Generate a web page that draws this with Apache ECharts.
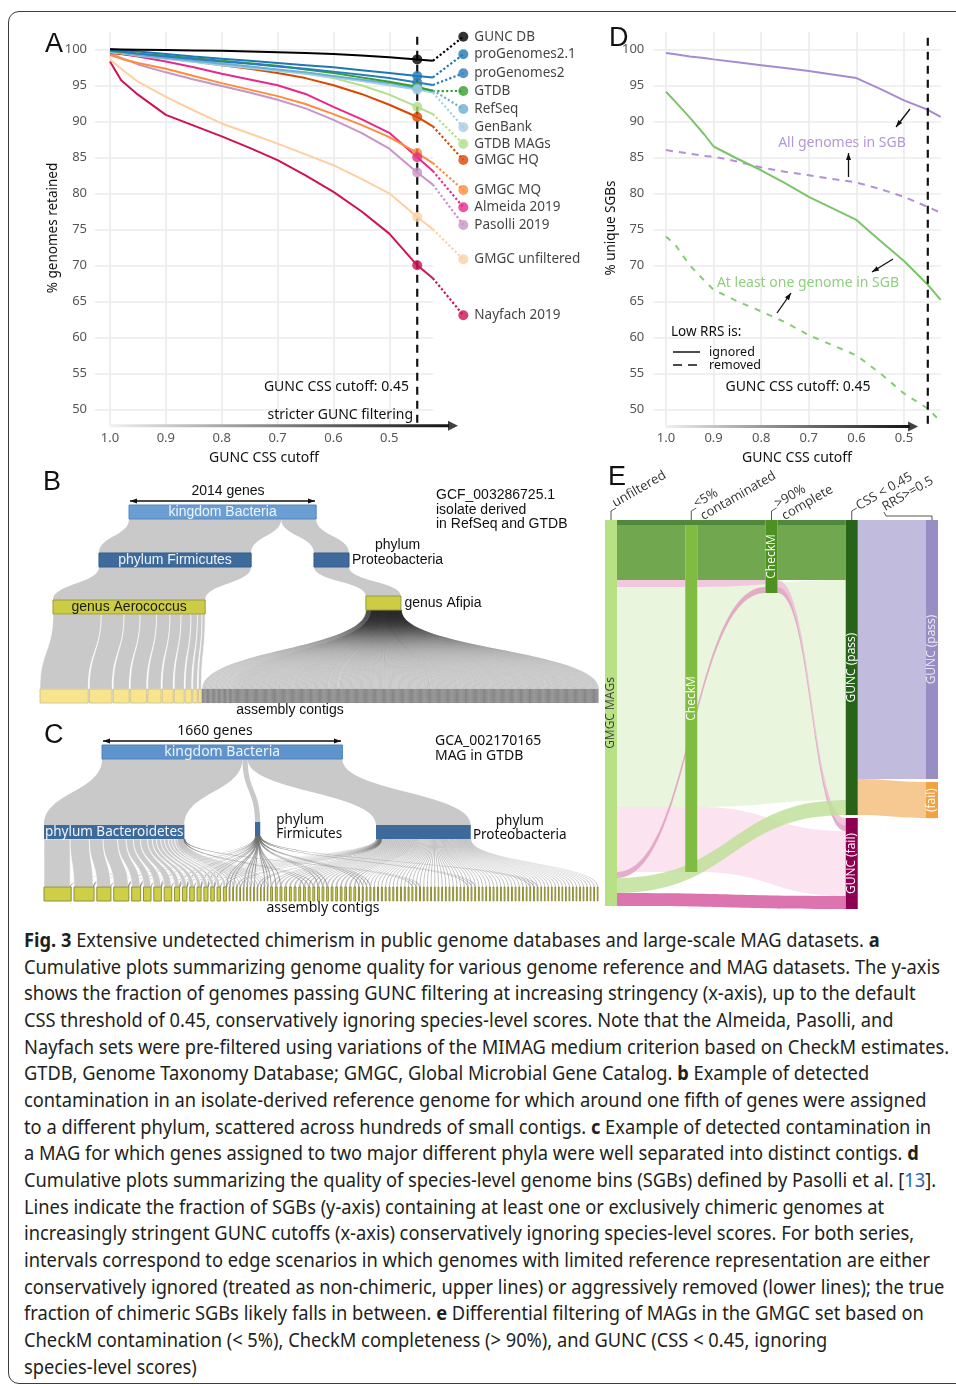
<!DOCTYPE html>
<html lang="en">
<head>
<meta charset="utf-8">
<title>Fig. 3</title>
<script src="https://cdn.jsdelivr.net/npm/echarts@6.0.0/dist/echarts.min.js"></script>
<style>
  html, body { margin: 0; padding: 0; background: #fff; overflow: hidden; }
  body { width: 956px; height: 1386px; position: relative; }
  #frame { position: absolute; left: 8px; top: 11px; width: 990px; height: 1371px; border: 1.5px solid #3c3c3c; border-radius: 11px; }
  #chart { position: absolute; left: 0; top: 0; width: 956px; height: 925px; }
  #caption { position: absolute; left: 24px; top: 927px; font-family: 'Noto Sans', sans-serif; font-size: 19px; line-height: 26.65px; color: #231f20; }
  #caption div { white-space: nowrap; transform-origin: 0 50%; }
  #caption span.t { display: inline-block; }
  #caption a { color: #2a64b8; text-decoration: none; }
</style>
</head>
<body>
<div id="frame"></div>
<div id="chart"></div>
<div id="caption">
  <div><span class="t"><b>Fig. 3</b> Extensive undetected chimerism in public genome databases and large-scale MAG datasets. <b>a</b></span></div>
  <div><span class="t">Cumulative plots summarizing genome quality for various genome reference and MAG datasets. The y-axis</span></div>
  <div><span class="t">shows the fraction of genomes passing GUNC filtering at increasing stringency (x-axis), up to the default</span></div>
  <div><span class="t">CSS threshold of 0.45, conservatively ignoring species-level scores. Note that the Almeida, Pasolli, and</span></div>
  <div><span class="t">Nayfach sets were pre-filtered using variations of the MIMAG medium criterion based on CheckM estimates.</span></div>
  <div><span class="t">GTDB, Genome Taxonomy Database; GMGC, Global Microbial Gene Catalog. <b>b</b> Example of detected</span></div>
  <div><span class="t">contamination in an isolate-derived reference genome for which around one fifth of genes were assigned</span></div>
  <div><span class="t">to a different phylum, scattered across hundreds of small contigs. <b>c</b> Example of detected contamination in</span></div>
  <div><span class="t">a MAG for which genes assigned to two major different phyla were well separated into distinct contigs. <b>d</b></span></div>
  <div><span class="t">Cumulative plots summarizing the quality of species-level genome bins (SGBs) defined by Pasolli et al. [<a>13</a>].</span></div>
  <div><span class="t">Lines indicate the fraction of SGBs (y-axis) containing at least one or exclusively chimeric genomes at</span></div>
  <div><span class="t">increasingly stringent GUNC cutoffs (x-axis) conservatively ignoring species-level scores. For both series,</span></div>
  <div><span class="t">intervals correspond to edge scenarios in which genomes with limited reference representation are either</span></div>
  <div><span class="t">conservatively ignored (treated as non-chimeric, upper lines) or aggressively removed (lower lines); the true</span></div>
  <div><span class="t">fraction of chimeric SGBs likely falls in between. <b>e</b> Differential filtering of MAGs in the GMGC set based on</span></div>
  <div><span class="t">CheckM contamination (&lt; 5%), CheckM completeness (&gt; 90%), and GUNC (CSS &lt; 0.45, ignoring</span></div>
  <div><span class="t">species-level scores)</span></div>
</div>
<script>
// ---------- A: % genomes retained vs GUNC CSS cutoff ----------
const cutoffsA = [1.0, 0.98, 0.95, 0.9, 0.85, 0.8, 0.75, 0.7, 0.65, 0.6, 0.55, 0.5, 0.45, 0.422]
const datasetsA = ['GUNC DB', 'proGenomes2.1', 'proGenomes2', 'GTDB', 'RefSeq', 'GenBank', 'GTDB MAGs',
  'GMGC HQ', 'GMGC MQ', 'Almeida 2019', 'Pasolli 2019', 'GMGC unfiltered', 'Nayfach 2019']
const guncDb = [100, 99.98, 99.95, 99.9, 99.85, 99.8, 99.7, 99.6, 99.5, 99.35, 99.15, 98.9, 98.6, 98.4]
const proGenomes21 = [100, 99.9, 99.7, 99.35, 99.0, 98.7, 98.4, 98.1, 97.8, 97.5, 97.1, 96.7, 96.3, 96.1]
const proGenomes2 = [99.9, 99.7, 99.4, 99.0, 98.65, 98.3, 98.0, 97.6, 97.3, 96.9, 96.45, 96.0, 95.4, 95.05]
const gtdb = [99.8, 99.65, 99.4, 99.1, 98.75, 98.4, 98.05, 97.7, 97.2, 96.7, 96.1, 95.5, 94.8, 94.2]
const refSeq = [99.7, 99.5, 99.2, 98.8, 98.4, 98.0, 97.6, 97.2, 96.8, 96.3, 95.8, 95.3, 94.6, 94.3]
const genBank = [99.65, 99.45, 99.1, 98.7, 98.25, 97.8, 97.4, 97.0, 96.6, 96.1, 95.6, 95.0, 94.4, 94.0]
const gtdbMags = [99.6, 99.45, 99.2, 98.9, 98.5, 98.05, 97.6, 97.1, 96.6, 96.0, 95.0, 93.7, 92.0, 91.0]
const gmgcHq = [99.5, 99.35, 99.1, 98.75, 98.3, 97.8, 97.3, 96.7, 96.0, 95.0, 93.8, 92.3, 90.6, 89.3]
const gmgcMq = [99.2, 98.7, 98.1, 97.3, 96.3, 95.3, 94.4, 93.5, 92.4, 91.0, 89.5, 87.8, 85.6, 84.2]
const almeida = [99.6, 99.35, 99.0, 98.3, 97.5, 96.6, 95.8, 95.0, 93.8, 92.0, 90.3, 88.4, 85.0, 83.1]
const pasolli = [99.4, 98.8, 97.9, 96.8, 95.8, 94.9, 94.0, 93.0, 91.8, 90.2, 88.4, 86.2, 82.9, 81.2]
const gmgcUnfiltered = [98.6, 97.3, 95.5, 93.4, 91.5, 89.7, 88.3, 86.9, 85.4, 83.9, 82.0, 80.0, 76.7, 75.0]
const nayfach = [98.3, 95.7, 93.7, 90.9, 89.4, 87.9, 86.3, 84.6, 82.5, 80.2, 77.5, 74.4, 70.0, 68.2]
const valuesA = [guncDb, proGenomes21, proGenomes2, gtdb, refSeq, genBank, gtdbMags, gmgcHq, gmgcMq, almeida, pasolli, gmgcUnfiltered, nayfach]
const colorsA = ['#000000', '#1f78b4', '#2a7dbb', '#33a02c', '#6baed6', '#a6cee3', '#b2df8a',
  '#d94801', '#fd8d3c', '#e7298a', '#c994c7', '#fdd0a2', '#ce1256']
// where the labelled end dots sit (layout, in axis units)
const labelXA = 0.3675
const labelYA = [101.75, 99.31, 96.67, 94.21, 91.71, 89.17, 86.85, 84.63, 80.46, 78.06, 75.6, 70.83, 63.06]

// ---------- D: % unique SGBs ----------
const cutoffsD = [1.0, 0.98, 0.95, 0.92, 0.9, 0.85, 0.8, 0.75, 0.7, 0.65, 0.6, 0.55, 0.5, 0.45, 0.423]
const allIgnored = [99.5, 99.3, 99.0, 98.8, 98.6, 98.2, 97.8, 97.4, 97.0, 96.5, 96.0, 94.5, 92.9, 91.6, 90.6]
const allRemoved = [86.0, 85.8, 85.5, 85.2, 85.1, 84.4, 83.6, 83.0, 82.5, 82.0, 81.5, 80.6, 79.5, 78.1, 77.3]
const oneIgnored = [94.1, 92.7, 90.5, 88.2, 86.5, 84.8, 83.2, 81.4, 79.5, 77.9, 76.3, 73.4, 70.6, 67.3, 65.2]
const oneRemoved = [74.0, 72.8, 70.0, 67.9, 66.6, 65.0, 63.6, 62.1, 60.3, 58.9, 57.5, 55.0, 52.2, 50.1, 48.3]
const guncCutoff = 0.45

// ---------- B: GCF_003286725.1 ----------
const bPhylumGenes = [1637, 377]                 // Firmicutes, Proteobacteria
const bAerococcusContigs = [519, 246, 173, 177, 144, 119, 107, 70, 49, 33]
const bAfipiaContigRuns = [[26, 2], [325, 1]]    // [contigs, genes per contig]

// ---------- C: GCA_002170165 ----------
// [contigs, Bacteroidetes genes, Firmicutes genes, Proteobacteria genes] per contig
const cContigRuns = [
  [1, 180, 0, 7], [1, 132, 2, 4], [1, 95, 0, 2], [1, 100, 1, 3], [1, 58, 1, 3], [1, 50, 0, 2], [1, 48, 2, 2], [1, 49, 0, 3],
  [1, 33, 1, 1], [1, 29, 1, 1], [1, 29, 0, 2], [1, 26, 1, 1], [1, 26, 1, 1], [1, 22, 1, 1], [1, 22, 0, 2], [1, 19, 1, 1],
  [2, 4, 1, 0], [2, 4, 0, 1], [2, 3, 1, 0], [2, 4, 1, 0], [2, 3, 0, 1], [2, 3, 1, 0],
  [3, 0, 1, 12], [4, 0, 0, 13], [3, 1, 0, 12], [3, 0, 1, 11], [6, 0, 0, 12],
  [4, 0, 1, 6], [10, 0, 0, 7], [3, 1, 0, 6], [12, 0, 0, 6], [3, 0, 1, 5], [14, 0, 0, 6], [3, 0, 1, 5], [17, 0, 0, 5]
]
const cPhyla = ['phylum Bacteroidetes', 'phylum Firmicutes', 'phylum Proteobacteria']

// ---------- E: GMGC MAG filtering (share of MAGs, %) ----------
const eLinks = [
  ['GMGC MAGs', 'CheckM completeness', 1.3, 'dkG'],
  ['GMGC MAGs', 'CheckM contamination', 14.25, 'mdG'],
  ['GMGC MAGs', 'CheckM contamination', 1.8, 'ltPk'],
  ['GMGC MAGs', 'CheckM contamination', 57.0, 'ltG'],
  ['GMGC MAGs', 'CheckM contamination', 16.85, 'vltPk'],
  ['CheckM contamination', 'CheckM completeness', 14.25, 'mdG'],
  ['CheckM contamination', 'CheckM completeness', 1.8, 'ltPk'],
  ['CheckM completeness', 'GUNC (pass)', 1.3, 'dkG'],
  ['CheckM completeness', 'GUNC (pass)', 14.25, 'mdG'],
  ['CheckM contamination', 'GUNC (pass)', 57.0, 'ltG'],
  ['GMGC MAGs', 'CheckM completeness', 1.55, 'mdPk'],
  ['CheckM completeness', 'GUNC (fail)', 1.8, 'ltPk'],
  ['CheckM completeness', 'GUNC (fail)', 1.55, 'mdPk'],
  ['CheckM contamination', 'GUNC (fail)', 16.85, 'vltPk'],
  ['GMGC MAGs', 'GUNC (pass)', 3.9, 'ltG2'],
  ['GMGC MAGs', 'GUNC (fail)', 3.35, 'mag'],
  ['GUNC (pass)', 'GUNC (pass) RRS', 67.1, 'lav'],
  ['GUNC (pass)', 'GUNC (fail) RRS', 9.35, 'org']
]
const eFlowColors = {
  dkG: '#4f8a3c', mdG: '#71a84f', ltPk: '#efbcd9', ltG: '#e9f5dc', vltPk: '#fbe3ef',
  mdPk: '#e09fc3', ltG2: '#bfe09a', mag: '#dc74b0', lav: '#c1bbde', org: '#f5c080'
}

const plex = "'Noto Sans', 'Open Sans', sans-serif"
const arial = "'Liberation Sans', Arial, sans-serif"
const gridGray = '#ebebeb'

// ---------- helpers for annotations ----------
function txt (x, y, text, o) {
  o = o || {}
  return {
    type: 'text', x: x, y: y, rotation: o.rot || 0, silent: true, z: 60,
    style: {
      text: text, fill: o.color || '#111',
      font: (o.weight || 'normal') + ' ' + (o.size || 14) + 'px ' + (o.family || plex),
      textAlign: o.align || 'left', align: o.align || 'left',
      textVerticalAlign: o.valign || 'middle', verticalAlign: o.valign || 'middle',
      lineHeight: o.lh || Math.round((o.size || 14) * 1.1)
    }
  }
}
function head (x, y, ang, len, wid) {
  const bx = x - len * Math.cos(ang), by = y - len * Math.sin(ang)
  const px = -Math.sin(ang) * wid / 2, py = Math.cos(ang) * wid / 2
  return { type: 'polygon', silent: true, z: 60, shape: { points: [[x, y], [bx + px, by + py], [bx - px, by - py]] }, style: { fill: '#111' } }
}
function arrow (x1, y1, x2, y2, both) {
  const ang = Math.atan2(y2 - y1, x2 - x1)
  const out = [{ type: 'line', silent: true, z: 60, shape: { x1: x1, y1: y1, x2: x2, y2: y2 }, style: { stroke: '#111', lineWidth: 1.3 } },
    head(x2, y2, ang, 7, 5)]
  if (both) out.push(head(x1, y1, ang + Math.PI, 7, 5))
  return out
}
function seg (x1, y1, x2, y2, o) {
  o = o || {}
  return { type: 'line', silent: true, z: 60, shape: { x1: x1, y1: y1, x2: x2, y2: y2 },
    style: { stroke: o.color || '#111', lineWidth: o.width || 1.5, lineDash: o.dash || null } }
}
function bracket (points) {
  return { type: 'polyline', silent: true, z: 60, shape: { points: points }, style: { stroke: '#555', lineWidth: 1, fill: null } }
}

// ---------- grids: A (0-2), D (3-5) ----------
// 0/3: vertical grid lines + x labels, 1/4: horizontal grid lines + y labels, 2/5: data
const pxPerUnitA = 558.6, pxPerUnitD = 476, pxPerPct = 7.2
const panelTop = 31.7, panelBottom = 426
const plotTop = 49.3, plotH = 360
const dataYMin = 47, dataYMax = 103
const dataXMinA = 0.36, dataXMinD = 0.42
const dataTop = plotTop - (dataYMax - 100) * pxPerPct
const dataH = (dataYMax - dataYMin) * pxPerPct
const grids = [
  { left: 110, top: panelTop, width: 279.3, height: panelBottom - panelTop },
  { left: 95, top: plotTop, width: 338, height: plotH },
  { left: 110, top: dataTop, width: (1 - dataXMinA) * pxPerUnitA, height: dataH },
  { left: 666, top: panelTop, width: 238, height: panelBottom - panelTop },
  { left: 653.3, top: plotTop, width: 287.4, height: plotH },
  { left: 666, top: dataTop, width: (1 - dataXMinD) * pxPerUnitD, height: dataH }
].map(g => Object.assign({ containLabel: false, outerBoundsMode: 'none' }, g))

const tickLabel = { color: '#555', fontSize: 13, fontFamily: plex }
function vAxisX (gi) {
  return { gridIndex: gi, type: 'value', min: 0.5, max: 1.0, interval: 0.1, inverse: true,
    axisLine: { show: false }, axisTick: { show: false },
    splitLine: { show: true, lineStyle: { color: gridGray, width: 1.6 } },
    axisLabel: Object.assign({ margin: 6, formatter: v => v.toFixed(1) }, tickLabel) }
}
function hAxisY (gi, margin) {
  return { gridIndex: gi, type: 'value', min: 50, max: 100, interval: 5,
    axisLine: { show: false }, axisTick: { show: false },
    splitLine: { show: true, lineStyle: { color: gridGray, width: 1.6 } },
    axisLabel: Object.assign({ margin: margin }, tickLabel) }
}
function blank (gi, min, max, inv) {
  return { gridIndex: gi, type: 'value', show: false, min: min, max: max, inverse: !!inv, splitLine: { show: false } }
}
const xAxes = [vAxisX(0), blank(1, 0, 1), blank(2, dataXMinA, 1.0, true), vAxisX(3), blank(4, 0, 1), blank(5, dataXMinD, 1.0, true)]
const yAxes = [blank(0, 0, 1), hAxisY(1, 8), blank(2, dataYMin, dataYMax), blank(3, 0, 1), hAxisY(4, 9), blank(5, dataYMin, dataYMax)]

const series = []
const ax = (i) => ({ xAxisIndex: i, yAxisIndex: i })
const fadeArrow = new echarts.graphic.LinearGradient(0, 0, 1, 0, [{ offset: 0, color: '#f2f2f2' }, { offset: 1, color: '#111' }])

// A lines, leaders, cutoff dots and end labels
const cutIdxA = cutoffsA.indexOf(guncCutoff)
const lastA = cutoffsA.length - 1
valuesA.forEach((vals, k) => {
  series.push(Object.assign({ type: 'line', data: cutoffsA.map((c, i) => [c, vals[i]]), symbol: 'none', silent: true,
    lineStyle: { color: colorsA[k], width: 2 }, z: 3 + (valuesA.length - k) / 100 }, ax(2)))
  series.push(Object.assign({ type: 'line', data: [[cutoffsA[lastA], vals[lastA]], [labelXA, labelYA[k]]], symbol: 'none', silent: true,
    lineStyle: { color: colorsA[k], width: 2.2, type: 'dotted' }, z: 3 }, ax(2)))
})
series.push(Object.assign({ type: 'line', data: [[guncCutoff, 101.75], [guncCutoff, 47.7]], symbol: 'none', silent: true,
  lineStyle: { color: '#111', width: 2.2, type: [8, 6] }, z: 4 }, ax(2)))
series.push(Object.assign({ type: 'scatter', symbolSize: 10, silent: true, z: 6,
  data: valuesA.map((vals, k) => ({ value: [guncCutoff, vals[cutIdxA]], itemStyle: { color: colorsA[k] } })) }, ax(2)))
series.push(Object.assign({ type: 'scatter', symbolSize: 10, silent: true, z: 6,
  label: { show: true, position: 'right', distance: 6, formatter: '{b}', color: '#111', fontSize: 13.5, fontFamily: plex },
  data: valuesA.map((vals, k) => ({ name: datasetsA[k], value: [labelXA, labelYA[k]], itemStyle: { color: colorsA[k] } })) }, ax(2)))
series.push(Object.assign({ type: 'line', data: [[1.0, 47.7], [0.393, 47.7]], symbol: 'none', silent: true,
  lineStyle: { color: fadeArrow, width: 3 }, z: 4 }, ax(2)))
series.push(Object.assign({ type: 'scatter', data: [[0.386, 47.7]], symbol: 'triangle', symbolRotate: -90, symbolSize: [10, 10],
  silent: true, itemStyle: { color: '#111' }, z: 5 }, ax(2)))

// D lines
const dLines = [
  [allIgnored, '#a78bd2', 'solid'], [allRemoved, '#b390d8', [7, 6]],
  [oneIgnored, '#7cc46b', 'solid'], [oneRemoved, '#86cc76', [6, 7]]
]
dLines.forEach(([vals, color, type]) => {
  series.push(Object.assign({ type: 'line', data: cutoffsD.map((c, i) => [c, vals[i]]), symbol: 'none', silent: true,
    lineStyle: { color: color, width: 2, type: type }, z: 3 }, ax(5)))
})
series.push(Object.assign({ type: 'line', data: [[guncCutoff, 101.6], [guncCutoff, 47.5]], symbol: 'none', silent: true,
  lineStyle: { color: '#111', width: 2.2, type: [8, 6] }, z: 4 }, ax(5)))
series.push(Object.assign({ type: 'line', data: [[1.0, 47.6], [0.488, 47.6]], symbol: 'none', silent: true,
  lineStyle: { color: fadeArrow, width: 3 }, z: 4 }, ax(5)))
series.push(Object.assign({ type: 'scatter', data: [[0.481, 47.6]], symbol: 'triangle', symbolRotate: -90, symbolSize: [10, 10],
  silent: true, itemStyle: { color: '#111' }, z: 5 }, ax(5)))

// ---------- B sankey ----------
const bNodes = [
  { name: 'kingdom Bacteria', localX: 0.1595, localY: 0, itemStyle: { color: '#6b9ed3', borderColor: '#5687bd', borderWidth: 1 },
    label: { show: true, position: 'inside', color: '#eef3fa', fontSize: 14, fontFamily: arial } },
  { name: 'phylum Firmicutes', localX: 0.1057, localY: 0.2424, itemStyle: { color: '#3e6b9b', borderColor: '#335e8c', borderWidth: 1 },
    label: { show: true, position: 'inside', color: '#eef3fa', fontSize: 14, fontFamily: arial } },
  { name: 'phylum Proteobacteria', localX: 0.491, localY: 0.2424, itemStyle: { color: '#3e6b9b', borderColor: '#335e8c', borderWidth: 1 },
    label: { show: true, position: 'right', distance: 1, align: 'center', offset: [47, -7], lineHeight: 15,
      formatter: 'phylum\nProteobacteria', color: '#111', fontSize: 14, fontFamily: arial } },
  { name: 'genus Aerococcus', localX: 0.0233, localY: 0.4798, itemStyle: { color: '#cdcd45', borderColor: '#9a9a40', borderWidth: 1 },
    label: { show: true, position: 'inside', color: '#1a1a1a', fontSize: 14, fontFamily: arial } },
  { name: 'genus Afipia', localX: 0.584, localY: 0.4596, itemStyle: { color: '#cdcd45', borderColor: '#9a9a40', borderWidth: 1 },
    label: { show: true, position: 'right', distance: 3, color: '#111', fontSize: 14, fontFamily: arial } }
]
const bLinks = [
  { source: 'kingdom Bacteria', target: 'phylum Firmicutes', value: bPhylumGenes[0] },
  { source: 'kingdom Bacteria', target: 'phylum Proteobacteria', value: bPhylumGenes[1] },
  { source: 'phylum Firmicutes', target: 'genus Aerococcus', value: bPhylumGenes[0] },
  { source: 'phylum Proteobacteria', target: 'genus Afipia', value: bPhylumGenes[1] }
]
bAerococcusContigs.forEach((g, i) => {
  const name = 'Aerococcus contig ' + (i + 1)
  bNodes.push({ name: name, itemStyle: { color: '#f7e48d', borderColor: '#c2bb98', borderWidth: 0.8 }, label: { show: false } })
  bLinks.push({ source: 'genus Aerococcus', target: name, value: g, lineStyle: { color: '#c9c9c9', borderColor: '#fff', borderWidth: 0.6 } })
})
let afi = 0
bAfipiaContigRuns.forEach(([n, g]) => {
  for (let i = 0; i < n; i++) {
    const name = 'Afipia contig ' + (++afi)
    bNodes.push({ name: name, itemStyle: { color: '#8a8a8a', borderColor: '#6f6f6f', borderWidth: 0.6 }, label: { show: false } })
    bLinks.push({ source: 'genus Afipia', target: name, value: g, lineStyle: { color: '#262626', opacity: 0.27 } })
  }
})
series.push({
  type: 'sankey', orient: 'vertical', left: 40, top: 505, width: 558, height: 198,
  nodeWidth: 14, nodeGap: 1.03, layoutIterations: 0, silent: true, draggable: false,
  label: { show: false }, itemStyle: { borderWidth: 0 },
  lineStyle: { color: '#c9c9c9', opacity: 1, curveness: 0.5 },
  data: bNodes, links: bLinks
})

// ---------- C sankey ----------
const cNodes = [
  { name: 'kingdom Bacteria', localX: 0.1047, localY: 0, itemStyle: { color: '#5f93cc', borderColor: '#4f82bb', borderWidth: 1 },
    label: { show: true, position: 'inside', color: '#eef3fa', fontSize: 14, fontFamily: plex } },
  { name: cPhyla[0], localX: 0, localY: 0.5128, itemStyle: { color: '#3d6a9a' },
    label: { show: true, position: 'inside', color: '#eef3fa', fontSize: 13.5, fontFamily: plex } },
  { name: cPhyla[1], localX: 0.3809, localY: 0.4936, itemStyle: { color: '#3d6a9a' },
    label: { show: true, position: 'right', distance: 16, formatter: 'phylum\nFirmicutes', lineHeight: 14, offset: [0, -2],
      color: '#111', fontSize: 13.5, fontFamily: plex } },
  { name: cPhyla[2], localX: 0.5993, localY: 0.5128, itemStyle: { color: '#3d6a9a' },
    label: { show: true, position: 'right', distance: 1, align: 'center', offset: [48, -4], lineHeight: 14,
      formatter: 'phylum\nProteobacteria', color: '#111', fontSize: 13.5, fontFamily: plex } }
]
const cLinks = []
const phylumTotals = [0, 0, 0]
let cc = 0
cContigRuns.forEach(([n, ...genes]) => {
  for (let i = 0; i < n; i++) {
    const name = 'contig ' + (++cc)
    cNodes.push({ name: name, itemStyle: { color: '#cfcf47', borderColor: '#8f8f3a', borderWidth: 1 }, label: { show: false } })
    const main = genes.indexOf(Math.max(...genes))
    genes.forEach((g, p) => {
      if (!g) return
      phylumTotals[p] += g
      const own = p === main
      cLinks.push({ source: cPhyla[p], target: name, value: g,
        lineStyle: own ? (g > 14 ? { color: '#cbcbcb', borderColor: '#fff', borderWidth: 0.6 } : { color: '#bdbdbd', opacity: 0.9 })
          : { color: '#6f6f6f', opacity: 0.65 } })
    })
  }
})
cPhyla.forEach((p, i) => cLinks.unshift({ source: 'kingdom Bacteria', target: p, value: phylumTotals[i] }))
series.push({
  type: 'sankey', orient: 'vertical', left: 44, top: 745, width: 554, height: 156,
  nodeWidth: 14, nodeGap: 2.8, layoutIterations: 0, silent: true, draggable: false,
  label: { show: false }, itemStyle: { borderWidth: 0 },
  lineStyle: { color: '#c9c9c9', opacity: 1, curveness: 0.5 },
  data: cNodes, links: cLinks
})

// ---------- E sankey ----------
const eLeft = 605, eTop = 520, eW = 333, eH = 389, eNodeW = 12
const eNodes = [
  { name: 'GMGC MAGs', itemStyle: { color: '#b8e186' }, label: { color: '#3a3a3a' } },
  { name: 'CheckM contamination', localY: 5 / eH, itemStyle: { color: '#7fbc41' }, label: { formatter: 'CheckM' } },
  { name: 'CheckM completeness', itemStyle: { color: '#4d9221' }, label: { formatter: 'CheckM' } },
  { name: 'GUNC (pass)', itemStyle: { color: '#276419' } },
  { name: 'GUNC (fail)', itemStyle: { color: '#8e0152' } },
  { name: 'GUNC (pass) RRS', itemStyle: { color: '#998ec3' }, label: { formatter: 'GUNC (pass)', color: '#eeeaf6' } },
  { name: 'GUNC (fail) RRS', itemStyle: { color: '#f1a340' }, label: { formatter: '(fail)' } }
]
series.push({
  type: 'sankey', orient: 'horizontal', left: eLeft, top: eTop, width: eW, height: eH,
  nodeWidth: eNodeW, nodeGap: 3, layoutIterations: 0, nodeAlign: 'left', silent: true, draggable: false,
  label: { show: true, position: 'inside', rotate: 90, color: '#fff', fontSize: 12, fontFamily: "'Open Sans', sans-serif" },
  itemStyle: { borderWidth: 0 },
  lineStyle: { opacity: 1, curveness: 0.5 },
  data: eNodes,
  links: eLinks.map(([s, t, v, k]) => ({ source: s, target: t, value: v,
    lineStyle: { color: eFlowColors[k], opacity: (k === 'ltG2' || k === 'mdPk' || k === 'ltPk' || k === 'org') ? 0.85 : 1 } }))
})

// ---------- annotations ----------
const kx = (eW - eNodeW) / 4
const eCol = [0, 1, 2, 3, 4].map(i => eLeft + i * kx + eNodeW / 2)
const R = Math.PI / 6
const eHead = { size: 13, family: "'Open Sans', sans-serif", color: '#333', valign: 'bottom', rot: R, lh: 14 }
const graphics = [
  txt(45, 45, 'A', { size: 27, family: arial }),
  txt(609, 39, 'D', { size: 27, family: arial }),
  txt(43, 483, 'B', { size: 27, family: arial }),
  txt(44, 736, 'C', { size: 27, family: arial }),
  txt(608, 478, 'E', { size: 27, family: arial }),
  // A
  txt(53, 228, '% genomes retained', { rot: Math.PI / 2, align: 'center', size: 13.5 }),
  txt(264, 458, 'GUNC CSS cutoff', { align: 'center', size: 14 }),
  txt(409, 387, 'GUNC CSS cutoff: 0.45', { align: 'right', size: 14 }),
  txt(413, 415.5, 'stricter GUNC filtering', { align: 'right', size: 14 }),
  // D
  txt(611, 228, '% unique SGBs', { rot: Math.PI / 2, align: 'center', size: 13.5 }),
  txt(797, 458, 'GUNC CSS cutoff', { align: 'center', size: 14 }),
  txt(842, 143, 'All genomes in SGB', { align: 'center', size: 14, color: '#b597d8' }),
  txt(808, 283.5, 'At least one genome in SGB', { align: 'center', size: 14, color: '#8fcf80' }),
  txt(671, 332, 'Low RRS is:', { size: 13.5 }),
  seg(673, 352, 700, 352, { width: 1.5 }),
  seg(673, 365, 701, 365, { width: 1.5, dash: [9, 6] }),
  txt(709, 352, 'ignored', { size: 12.5 }),
  txt(709, 365.5, 'removed', { size: 12.5 }),
  txt(798, 387.5, 'GUNC CSS cutoff: 0.45', { align: 'center', size: 14 }),
  ...arrow(910, 109, 896, 127),
  ...arrow(848.5, 177, 848.5, 153),
  ...arrow(893, 259, 872, 272),
  ...arrow(777, 313, 791, 293),
  // B
  txt(228, 491, '2014 genes', { align: 'center', size: 14, family: arial }),
  ...arrow(130, 501, 315, 501, true),
  txt(436, 495, 'GCF_003286725.1', { size: 14, family: arial }),
  txt(436, 510, 'isolate derived', { size: 14, family: arial }),
  txt(436, 524.5, 'in RefSeq and GTDB', { size: 14, family: arial }),
  txt(290, 710, 'assembly contigs', { align: 'center', size: 14, family: arial }),
  // C
  txt(215, 731, '1660 genes', { align: 'center', size: 14 }),
  ...arrow(103, 741, 341, 741, true),
  txt(435, 741.5, 'GCA_002170165', { size: 14 }),
  txt(435, 756, 'MAG in GTDB', { size: 14 }),
  txt(323, 908.5, 'assembly contigs', { align: 'center', size: 14 }),
  // E column headers
  bracket([[eCol[0], 520], [eCol[0], 511], [eCol[0] + 5, 508]]),
  txt(eCol[0] + 6, 510, 'unfiltered', eHead),
  bracket([[eCol[1], 520], [eCol[1], 511], [eCol[1] + 5, 508]]),
  txt(eCol[1] + 14, 523, '<5%\ncontaminated', eHead),
  bracket([[eCol[2], 520], [eCol[2], 511], [eCol[2] + 5, 508]]),
  txt(eCol[2] + 15, 523, '>90%\ncomplete', eHead),
  bracket([[eCol[3], 520], [eCol[3], 511], [eCol[3] + 5, 508]]),
  txt(eCol[3] + 9, 513, 'CSS < 0.45', eHead),
  bracket([[884, 512], [886, 516], [eCol[4], 516], [eCol[4], 520]]),
  txt(887, 514, 'RRS>=0.5', eHead)
]

const chart = echarts.init(document.getElementById('chart'))
chart.setOption({
  animation: false,
  textStyle: { fontFamily: plex },
  grid: grids,
  xAxis: xAxes,
  yAxis: yAxes,
  series: series,
  graphic: { elements: graphics }
})

// fit the caption lines to the printed measure
const capLines = document.querySelectorAll('#caption div')
const k = 916 / capLines[1].querySelector('span').getBoundingClientRect().width
capLines.forEach(d => { d.style.transform = 'scaleX(' + k + ')' })
</script>
</body>
</html>
